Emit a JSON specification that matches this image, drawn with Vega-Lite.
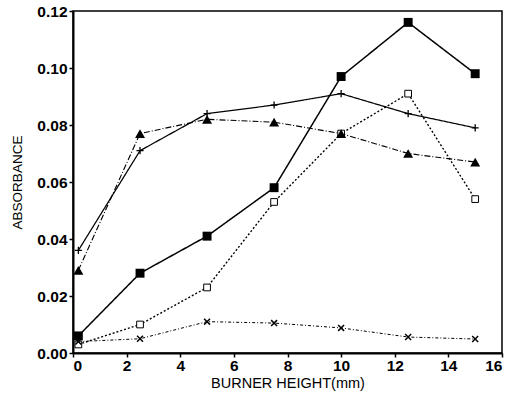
{
  "$schema": "https://vega.github.io/schema/vega-lite/v6.json",
  "width": 429,
  "height": 342,
  "autosize": "none",
  "padding": {"left": 73, "top": 11, "right": 12, "bottom": 44},
  "background": "white",
  "config": {
    "view": {"stroke": "black", "strokeWidth": 1.5},
    "font": "Liberation Sans",
    "axis": {
      "grid": false,
      "domainColor": "black",
      "domainWidth": 2,
      "tickColor": "black",
      "tickWidth": 1.5,
      "tickSize": 4,
      "labelFont": "Liberation Sans",
      "labelFontSize": 15.5,
      "labelFontWeight": "bold",
      "labelColor": "black",
      "titleFont": "Liberation Sans",
      "titleFontWeight": "normal",
      "titleColor": "black"
    }
  },
  "data": {
    "values": [
      {"series": "A", "h": 0.2, "abs": 0.006},
      {"series": "A", "h": 2.5, "abs": 0.028},
      {"series": "A", "h": 5, "abs": 0.041},
      {"series": "A", "h": 7.5, "abs": 0.058},
      {"series": "A", "h": 10, "abs": 0.097},
      {"series": "A", "h": 12.5, "abs": 0.116},
      {"series": "A", "h": 15, "abs": 0.098},
      {"series": "B", "h": 0.2, "abs": 0.003},
      {"series": "B", "h": 2.5, "abs": 0.010},
      {"series": "B", "h": 5, "abs": 0.023},
      {"series": "B", "h": 7.5, "abs": 0.053},
      {"series": "B", "h": 10, "abs": 0.077},
      {"series": "B", "h": 12.5, "abs": 0.091},
      {"series": "B", "h": 15, "abs": 0.054},
      {"series": "C", "h": 0.2, "abs": 0.036},
      {"series": "C", "h": 2.5, "abs": 0.071},
      {"series": "C", "h": 5, "abs": 0.084},
      {"series": "C", "h": 7.5, "abs": 0.087},
      {"series": "C", "h": 10, "abs": 0.091},
      {"series": "C", "h": 12.5, "abs": 0.084},
      {"series": "C", "h": 15, "abs": 0.079},
      {"series": "D", "h": 0.2, "abs": 0.029},
      {"series": "D", "h": 2.5, "abs": 0.077},
      {"series": "D", "h": 5, "abs": 0.082},
      {"series": "D", "h": 7.5, "abs": 0.081},
      {"series": "D", "h": 10, "abs": 0.077},
      {"series": "D", "h": 12.5, "abs": 0.070},
      {"series": "D", "h": 15, "abs": 0.067},
      {"series": "E", "h": 0.2, "abs": 0.004},
      {"series": "E", "h": 2.5, "abs": 0.005},
      {"series": "E", "h": 5, "abs": 0.011},
      {"series": "E", "h": 7.5, "abs": 0.0105},
      {"series": "E", "h": 10, "abs": 0.0088},
      {"series": "E", "h": 12.5, "abs": 0.0056},
      {"series": "E", "h": 15, "abs": 0.0049}
    ]
  },
  "encoding": {
    "x": {
      "field": "h", "type": "quantitative",
      "scale": {"domain": [0, 16], "nice": false, "zero": false},
      "axis": {"values": [0, 2, 4, 6, 8, 10, 12, 14, 16], "title": "BURNER HEIGHT(mm)", "titleFontSize": 14.5, "titlePadding": 3, "labelPadding": 1}
    },
    "y": {
      "field": "abs", "type": "quantitative",
      "scale": {"domain": [0, 0.12], "nice": false},
      "axis": {"values": [0, 0.02, 0.04, 0.06, 0.08, 0.10, 0.12], "format": ".2f", "title": "ABSORBANCE", "titleFontSize": 13.5, "titlePadding": 12, "labelPadding": 2}
    }
  },
  "layer": [
    {
      "mark": {"type": "line", "color": "black"},
      "encoding": {
        "detail": {"field": "series"},
        "strokeDash": {
          "field": "series", "type": "nominal", "legend": null,
          "scale": {"domain": ["A", "B", "C", "D", "E"], "range": [[1, 0], [2, 2], [1, 0], [6, 2, 1, 2], [3, 2, 1, 2]]}
        },
        "strokeWidth": {
          "field": "series", "type": "nominal", "legend": null,
          "scale": {"domain": ["A", "B", "C", "D", "E"], "range": [1.5, 1, 1, 1, 1]}
        }
      }
    },
    {
      "transform": [{"filter": "datum.series === 'A'"}],
      "mark": {"type": "point", "shape": "square", "filled": true, "color": "black", "size": 80, "opacity": 1}
    },
    {
      "transform": [{"filter": "datum.series === 'B'"}],
      "mark": {"type": "point", "shape": "square", "filled": true, "fill": "white", "stroke": "black", "strokeWidth": 1, "size": 45, "opacity": 1}
    },
    {
      "transform": [{"filter": "datum.series === 'C'"}],
      "mark": {"type": "point", "shape": "M-1,0L1,0M0,-1L0,1", "filled": false, "stroke": "black", "strokeWidth": 1.3, "size": 50, "opacity": 1}
    },
    {
      "transform": [{"filter": "datum.series === 'D'"}],
      "mark": {"type": "point", "shape": "triangle-up", "filled": true, "color": "black", "size": 100, "opacity": 1}
    },
    {
      "transform": [{"filter": "datum.series === 'E'"}],
      "mark": {"type": "point", "shape": "M-1,-1L1,1M-1,1L1,-1", "filled": false, "stroke": "black", "strokeWidth": 1.5, "size": 35, "opacity": 1}
    }
  ]
}
